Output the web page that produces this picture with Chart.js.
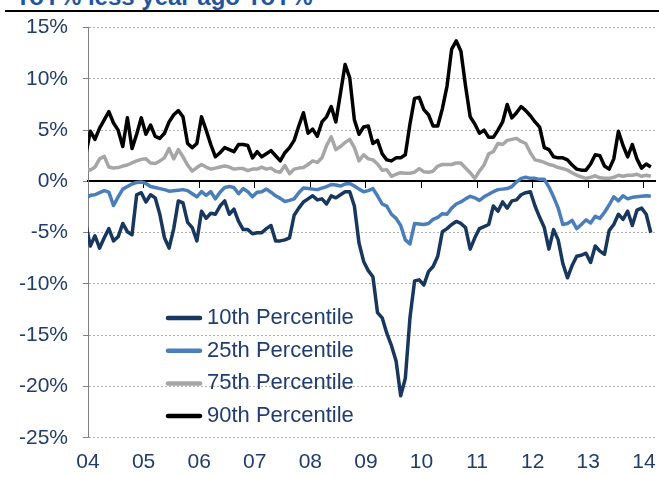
<!DOCTYPE html>
<html>
<head>
<meta charset="utf-8">
<script src="https://cdn.jsdelivr.net/npm/chart.js@4.4.1/dist/chart.umd.min.js"></script>
<style>
  html, body { margin: 0; padding: 0; background: #fff; }
  #wrap { position: relative; width: 659px; height: 477px; overflow: hidden; }
  #title { position: absolute; left: 15px; top: -17.5px; font: bold 24px "Liberation Sans", Arial, sans-serif; color: #1F56A0; white-space: nowrap; }
  #rule { position: absolute; left: 5px; right: 0; top: 10px; height: 2px; background: #000; }
  canvas { position: absolute; left: 0; top: 0; }
</style>
</head>
<body>
<div id="wrap">
  <div id="title">YoY% less year ago YoY%</div>
  <div id="rule"></div>
  <canvas id="chart" width="659" height="477"></canvas>
</div>
<script>
// monthly series, Dec 2003 .. Feb 2014 (123 months), YoY% less year-ago YoY%
const startYear = 2003, startMonth = 12, nMonths = 123;
const yearTicks = ['04', '05', '06', '07', '08', '09', '10', '11', '12', '13', '14'];

const p10 = [-4.1, -6.3, -5.3, -6.5, -5.5, -4.6, -5.8, -5.4, -4.1, -4.9,
  -5.2, -1.3, -1.1, -2.0, -1.3, -1.6, -3.2, -5.5, -6.5, -4.6,
  -1.9, -2.1, -4.0, -4.5, -5.8, -2.9, -3.6, -3.1, -3.2, -2.4,
  -1.9, -3.2, -2.7, -3.9, -4.7, -4.7, -5.1, -5.0, -5.0, -4.6,
  -4.3, -5.8, -5.8, -5.7, -5.5, -3.3, -2.6, -2.0, -1.7, -1.4,
  -1.8, -1.7, -2.2, -1.4, -1.6, -1.3, -1.0, -1.0, -2.4, -6.0,
  -7.8, -8.7, -9.3, -12.8, -13.3, -14.8, -16.0, -17.5, -20.9, -19.2,
  -13.3, -9.7, -9.6, -10.1, -8.8, -8.3, -7.3, -4.9, -4.6, -4.2,
  -3.9, -4.1, -4.5, -6.6, -5.5, -4.6, -4.4, -4.2, -2.4, -2.9,
  -2.0, -2.6, -1.9, -1.8, -1.3, -1.1, -1.0, -2.4, -3.5, -4.5,
  -6.6, -4.7, -5.7, -8.0, -9.4, -8.2, -7.3, -7.2, -7.0, -7.9,
  -6.3, -6.8, -7.1, -4.8, -4.2, -3.2, -3.7, -2.9, -4.3, -2.8,
  -2.6, -3.2, -5.0];

const p25 = [-1.7, -1.35, -1.3, -1.1, -0.9, -1.05, -2.35, -1.5, -0.75, -0.5,
  -0.25, -0.1, -0.05, -0.2, -0.5, -0.6, -0.7, -0.8, -0.95, -0.9,
  -0.85, -0.8, -0.9, -1.2, -1.5, -1.0, -1.35, -1.0, -1.7, -1.05,
  -0.6, -0.5, -0.6, -1.2, -0.7, -1.0, -1.5, -1.05, -1.0, -0.75,
  -1.05, -1.4, -1.65, -1.95, -1.85, -1.7, -1.1, -0.65, -0.7, -0.75,
  -0.8, -0.65, -0.5, -0.3, -0.35, -0.45, -0.25, -0.2, -0.45, -0.75,
  -1.0, -0.9, -0.7, -1.4, -2.2, -2.4, -3.2, -3.6, -4.3, -5.7,
  -6.1, -4.1, -4.15, -4.2, -4.1, -3.7, -3.5, -3.15, -3.2, -2.6,
  -2.2, -2.0, -1.7, -1.45, -1.6, -1.85, -1.5, -1.25, -1.0, -0.8,
  -0.75, -0.7, -0.5, -0.05, 0.3, 0.4, 0.3, 0.3, 0.2, 0.2,
  -0.55, -1.5, -2.6, -4.2, -4.1, -3.8, -4.6, -4.2, -3.75, -4.05,
  -3.4, -3.6, -3.0, -2.3, -1.5, -1.9, -1.4, -1.7, -1.55, -1.5,
  -1.45, -1.4, -1.45];

const p75 = [1.3, 1.1, 1.4, 2.2, 2.45, 1.4, 1.3, 1.35, 1.5, 1.6,
  1.8, 2.0, 2.15, 2.2, 1.8, 1.75, 2.0, 2.3, 3.2, 2.2,
  3.1, 2.4, 1.6, 1.0, 1.35, 1.65, 1.4, 1.2, 1.3, 1.4,
  1.5, 1.4, 1.2, 1.25, 1.25, 1.05, 1.2, 1.2, 1.4, 1.2,
  1.3, 1.0, 0.9, 1.55, 0.75, 1.2, 1.3, 1.35, 1.65, 2.0,
  1.85, 2.3, 3.5, 4.35, 3.1, 3.4, 3.8, 4.1, 3.3, 2.0,
  2.6, 2.2, 2.1, 1.7, 1.1, 1.15, 0.5, 0.7, 0.85, 0.8,
  0.8, 0.9, 1.25, 0.95, 0.9, 1.0, 1.5, 1.65, 1.65, 1.65,
  1.8, 1.8, 1.3, 0.85, 0.3, 1.0, 1.6, 2.7, 2.9, 3.7,
  3.6, 4.0, 4.1, 4.2, 3.9, 3.7, 2.8, 2.1, 2.0, 1.85,
  1.65, 1.55, 1.35, 1.25, 1.1, 0.85, 0.6, 0.45, 0.3, 0.4,
  0.55, 0.35, 0.3, 0.3, 0.4, 0.6, 0.5, 0.6, 0.6, 0.7,
  0.5, 0.6, 0.5];

const p90 = [2.6, 4.9, 4.1, 5.2, 6.0, 6.8, 5.7, 5.0, 3.4, 6.2,
  3.2, 4.6, 6.2, 4.6, 5.5, 4.4, 4.2, 4.7, 5.8, 6.5,
  6.9, 6.3, 3.7, 3.3, 3.7, 6.3, 5.0, 3.6, 2.4, 2.8,
  3.3, 3.1, 2.9, 3.6, 3.6, 3.5, 2.3, 2.9, 2.4, 2.7,
  3.0, 2.5, 2.0, 2.8, 3.3, 4.0, 5.4, 6.7, 4.7, 5.1,
  4.4, 5.8, 6.3, 7.3, 5.8, 8.6, 11.4, 10.1, 6.0, 4.6,
  5.3, 5.4, 3.7, 4.0, 2.7, 2.1, 2.0, 2.3, 2.3, 2.6,
  5.6, 8.1, 8.2, 7.0, 6.5, 5.4, 5.4, 7.1, 9.3, 12.9,
  13.7, 12.7, 9.3, 6.3, 5.6, 4.7, 5.0, 4.3, 4.3, 5.0,
  5.8, 7.5, 6.2, 6.7, 7.3, 6.9, 6.4, 5.8, 5.3, 3.3,
  3.1, 2.4, 2.3, 2.3, 2.1, 1.6, 1.2, 1.1, 1.1, 1.7,
  2.6, 2.5, 1.5, 1.2, 2.2, 4.9, 3.5, 2.4, 3.6, 2.2,
  1.3, 1.7, 1.4];

// mid-month positions in years
const monthPos = [];
for (let i = 0; i < nMonths; i++) {
  const m = startMonth - 1 + i;
  monthPos.push(startYear + Math.floor(m / 12) + ((m % 12) + 0.5) / 12);
}

const tickColor = '#203D6B';
const axisFont = { family: '"Liberation Sans", Arial, sans-serif', size: 21 };

const insideLegend = {
  id: 'insideLegend',
  afterDatasetsDraw(chart, args, opts) {
    const { ctx } = chart;
    ctx.save();
    ctx.font = opts.font;
    ctx.textBaseline = 'middle';
    ctx.lineCap = 'round';
    chart.data.datasets.forEach((ds, i) => {
      const y = opts.top + i * opts.rowHeight;
      ctx.strokeStyle = ds.borderColor;
      ctx.lineWidth = opts.lineWidth;
      ctx.beginPath();
      ctx.moveTo(opts.left, y);
      ctx.lineTo(opts.left + opts.lineLength, y);
      ctx.stroke();
      ctx.fillStyle = opts.color;
      ctx.fillText(ds.label, opts.left + opts.lineLength + opts.gap, y);
    });
    ctx.restore();
  }
};

const xMin = 2004, xMax = 2014.2;

new Chart(document.getElementById('chart'), {
  type: 'line',
  data: {
    labels: monthPos,
    datasets: [
      { label: '10th Percentile', data: p10, borderColor: '#17375E' },
      { label: '25th Percentile', data: p25, borderColor: '#4A7EBB' },
      { label: '75th Percentile', data: p75, borderColor: '#A6A6A6' },
      { label: '90th Percentile', data: p90, borderColor: '#000000' }
    ].map(d => Object.assign(d, { xAxisID: 'x', yAxisID: 'y', borderWidth: 3.5, pointRadius: 0, tension: 0, borderJoinStyle: 'round', fill: false }))
  },
  plugins: [insideLegend],
  options: {
    responsive: false,
    animation: false,
    events: [],
    layout: { padding: { left: 4, right: 4, top: 26, bottom: 2 } },
    plugins: {
      legend: { display: false },
      tooltip: { enabled: false },
      insideLegend: {
        left: 168, top: 318, rowHeight: 32.7, lineLength: 32, gap: 7, lineWidth: 4.5,
        font: '22px "Liberation Sans", Arial, sans-serif', color: '#1F3D72'
      }
    },
    scales: {
      x: {
        type: 'linear', axis: 'x', position: 'bottom', min: xMin, max: xMax,
        // tick marks hidden; tickLength only sets the gap above the labels
        grid: { display: false, drawTicks: true, tickLength: 12 },
        border: { display: false },
        ticks: {
          stepSize: 1, includeBounds: false, autoSkip: false, maxRotation: 0, padding: 0,
          color: tickColor, font: axisFont,
          callback: v => yearTicks[Math.round(v) - 2004]
        }
      },
      x0: {
        type: 'linear', axis: 'x', position: { y: 0 }, min: xMin, max: xMax,
        ticks: { display: false, stepSize: 1, includeBounds: false },
        grid: { drawOnChartArea: false, drawTicks: true, tickLength: 6, tickColor: '#000', tickWidth: 1 },
        border: { display: true, color: '#000', width: 2 }
      },
      y: {
        type: 'linear', position: 'left', min: -25, max: 15,
        ticks: { stepSize: 5, padding: 15, color: tickColor, font: axisFont, callback: v => v + '%' },
        grid: { color: '#B4B4B4', lineWidth: 1, tickLength: 5, tickColor: '#7F7F7F', tickBorderDash: [] },
        border: { display: true, color: '#7F7F7F', width: 1, dash: [2, 2] }
      }
    }
  }
});
</script>
</body>
</html>
